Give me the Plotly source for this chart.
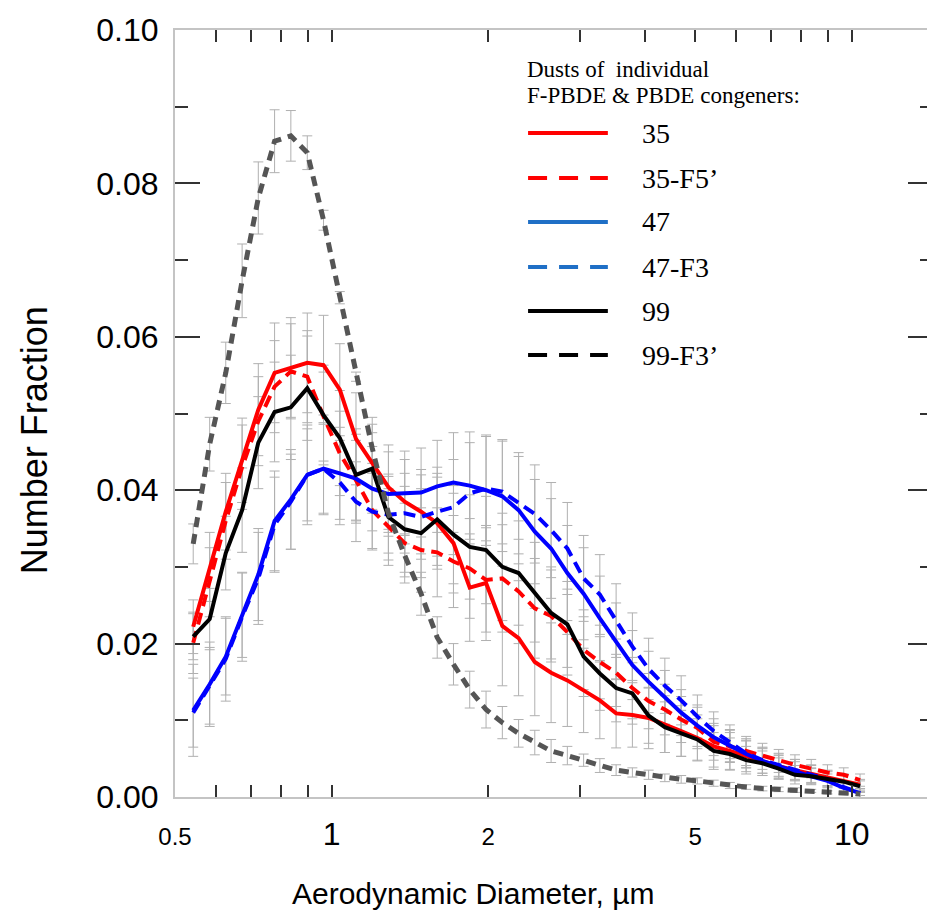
import plotly.graph_objects as go

# APS channel midpoints (aerodynamic diameter, um)
diameter = [0.542, 0.583, 0.626, 0.673, 0.723, 0.777, 0.835, 0.898, 0.965, 1.037,
            1.114, 1.197, 1.286, 1.382, 1.486, 1.596, 1.715, 1.843, 1.981, 2.129,
            2.288, 2.458, 2.642, 2.839, 3.051, 3.278, 3.523, 3.786, 4.068, 4.371,
            4.698, 5.048, 5.425, 5.829, 6.264, 6.732, 7.234, 7.774, 8.354, 8.977,
            9.647, 10.37]

frac_35 = [0.0222, 0.0300, 0.0372, 0.0439, 0.0505, 0.0553, 0.0560, 0.0566, 0.0563, 0.0531,
           0.0467, 0.0435, 0.0404, 0.0385, 0.0372, 0.0357, 0.0331, 0.0273, 0.0279, 0.0223,
           0.0207, 0.0176, 0.0162, 0.0152, 0.0139, 0.0126, 0.0109, 0.0107, 0.0103, 0.0095,
           0.0086, 0.0077, 0.0066, 0.0060, 0.0053, 0.0046, 0.0040, 0.0035, 0.0030, 0.0025,
           0.0021, 0.0016]
err_35 = [0.0035, 0.0045, 0.0050, 0.0055, 0.0060, 0.0065, 0.0065, 0.0065, 0.0065, 0.0060,
          0.0060, 0.0060, 0.0055, 0.0055, 0.0055, 0.0060, 0.0065, 0.0070, 0.0075, 0.0078,
          0.0075, 0.0070, 0.0065, 0.0060, 0.0055, 0.0050, 0.0045, 0.0042, 0.0040, 0.0037,
          0.0033, 0.0030, 0.0027, 0.0024, 0.0020, 0.0018, 0.0016, 0.0014, 0.0012, 0.0010,
          0.0009, 0.0007]

frac_35f = [0.0201, 0.0280, 0.0360, 0.0430, 0.0490, 0.0535, 0.0555, 0.0548, 0.0496, 0.0448,
            0.0413, 0.0374, 0.0352, 0.0331, 0.0322, 0.0319, 0.0307, 0.0298, 0.0283, 0.0285,
            0.0268, 0.0246, 0.0236, 0.0215, 0.0192, 0.0176, 0.0162, 0.0142, 0.0125, 0.0114,
            0.0101, 0.0090, 0.0072, 0.0066, 0.0060, 0.0053, 0.0047, 0.0042, 0.0037, 0.0032,
            0.0029, 0.0022]
err_35f = [0.0040, 0.0045, 0.0050, 0.0055, 0.0058, 0.0060, 0.0062, 0.0060, 0.0058, 0.0055,
           0.0052, 0.0050, 0.0050, 0.0052, 0.0055, 0.0058, 0.0060, 0.0065, 0.0068, 0.0070,
           0.0068, 0.0065, 0.0060, 0.0056, 0.0052, 0.0048, 0.0044, 0.0040, 0.0036, 0.0033,
           0.0030, 0.0027, 0.0024, 0.0021, 0.0019, 0.0017, 0.0015, 0.0013, 0.0012, 0.0010,
           0.0009, 0.0008]

frac_47 = [0.0113, 0.0147, 0.0183, 0.0237, 0.0290, 0.0360, 0.0388, 0.0420, 0.0428, 0.0422,
           0.0415, 0.0402, 0.0395, 0.0396, 0.0397, 0.0405, 0.0410, 0.0406, 0.0400, 0.0392,
           0.0374, 0.0346, 0.0324, 0.0292, 0.0265, 0.0233, 0.0203, 0.0172, 0.0150, 0.0130,
           0.0110, 0.0093, 0.0078, 0.0067, 0.0056, 0.0047, 0.0040, 0.0034, 0.0027, 0.0021,
           0.0012, 0.0005]
err_47 = [0.0060, 0.0055, 0.0050, 0.0055, 0.0060, 0.0065, 0.0065, 0.0065, 0.0060, 0.0060,
          0.0058, 0.0055, 0.0055, 0.0055, 0.0058, 0.0060, 0.0065, 0.0070, 0.0072, 0.0072,
          0.0070, 0.0068, 0.0065, 0.0062, 0.0060, 0.0055, 0.0050, 0.0045, 0.0040, 0.0035,
          0.0030, 0.0027, 0.0024, 0.0021, 0.0018, 0.0016, 0.0014, 0.0012, 0.0010, 0.0009,
          0.0008, 0.0006]

frac_47f = [0.0110, 0.0145, 0.0180, 0.0235, 0.0285, 0.0355, 0.0385, 0.0420, 0.0428, 0.0410,
            0.0385, 0.0372, 0.0368, 0.0370, 0.0365, 0.0372, 0.0378, 0.0396, 0.0402, 0.0398,
            0.0383, 0.0369, 0.0348, 0.0324, 0.0285, 0.0264, 0.0230, 0.0196, 0.0167, 0.0145,
            0.0126, 0.0105, 0.0086, 0.0072, 0.0057, 0.0048, 0.0042, 0.0036, 0.0030, 0.0023,
            0.0013, 0.0005]
err_47f = [0.0045, 0.0050, 0.0055, 0.0058, 0.0060, 0.0062, 0.0062, 0.0060, 0.0058, 0.0055,
           0.0052, 0.0050, 0.0050, 0.0052, 0.0055, 0.0058, 0.0062, 0.0066, 0.0068, 0.0068,
           0.0066, 0.0064, 0.0062, 0.0060, 0.0056, 0.0052, 0.0048, 0.0044, 0.0040, 0.0036,
           0.0032, 0.0028, 0.0025, 0.0022, 0.0019, 0.0017, 0.0015, 0.0013, 0.0011, 0.0010,
           0.0008, 0.0006]

frac_99 = [0.0209, 0.0232, 0.0318, 0.0374, 0.0462, 0.0502, 0.0508, 0.0533, 0.0498, 0.0468,
           0.0420, 0.0428, 0.0365, 0.0349, 0.0344, 0.0362, 0.0342, 0.0326, 0.0322, 0.0300,
           0.0292, 0.0267, 0.0240, 0.0225, 0.0183, 0.0161, 0.0142, 0.0135, 0.0106, 0.0091,
           0.0083, 0.0075, 0.0060, 0.0056, 0.0048, 0.0044, 0.0037, 0.0029, 0.0027, 0.0024,
           0.0020, 0.0014]
err_99 = [0.0030, 0.0040, 0.0048, 0.0055, 0.0060, 0.0065, 0.0068, 0.0068, 0.0065, 0.0062,
          0.0060, 0.0058, 0.0056, 0.0056, 0.0058, 0.0060, 0.0064, 0.0068, 0.0070, 0.0070,
          0.0068, 0.0065, 0.0060, 0.0056, 0.0052, 0.0048, 0.0044, 0.0040, 0.0036, 0.0033,
          0.0030, 0.0027, 0.0024, 0.0021, 0.0018, 0.0016, 0.0014, 0.0012, 0.0011, 0.0010,
          0.0009, 0.0007]

frac_99f = [0.0330, 0.0460, 0.0553, 0.0673, 0.0781, 0.0855, 0.0862, 0.0840, 0.0752, 0.0651,
            0.0548, 0.0455, 0.0370, 0.0315, 0.0265, 0.0208, 0.0173, 0.0140, 0.0114, 0.0097,
            0.0083, 0.0071, 0.0060, 0.0054, 0.0048, 0.0041, 0.0035, 0.0032, 0.0029, 0.0025,
            0.0023, 0.0021, 0.0018, 0.0015, 0.0013, 0.0011, 0.0010, 0.0009, 0.0008, 0.0006,
            0.0005, 0.0004]
err_99f = [0.0026, 0.0035, 0.0040, 0.0048, 0.0047, 0.0041, 0.0033, 0.0022, 0.0013, 0.0008,
           0.0006, 0.0020, 0.0025, 0.0028, 0.0028, 0.0027, 0.0027, 0.0024, 0.0024, 0.0021,
           0.0018, 0.0016, 0.0015, 0.0012, 0.0008, 0.0009, 0.0007, 0.0006, 0.0006, 0.0005,
           0.0005, 0.0004, 0.0004, 0.0004, 0.0003, 0.0003, 0.0003, 0.0003, 0.0002, 0.0002,
           0.0002, 0.0002]

legend_title = ["Dusts of  individual", "F-PBDE & PBDE congeners:"]
legend_labels = ["35", "35-F5\u2019", "47", "47-F3", "99", "99-F3\u2019"]

x_tickvals = [0.5, 1, 2, 5, 10]
x_ticktext = ["0.5", "1", "2", "5", "10"]
x_minor_vals = [0.6, 0.7, 0.8, 0.9, 3, 4, 6, 7, 8, 9]
y_tickvals = [0.0, 0.02, 0.04, 0.06, 0.08, 0.10]

series = [
    (frac_35, err_35, "#ff0000", "solid", 4),
    (frac_35f, err_35f, "#ff0000", "12px,7px", 4),
    (frac_47, err_47, "#0000ff", "solid", 4),
    (frac_47f, err_47f, "#0000ff", "12px,7px", 4),
    (frac_99, err_99, "#000000", "solid", 4),
    (frac_99f, err_99f, "#555555", "10px,7px", 5),
]
legend_colors = ["#ff0000", "#ff0000", "#1f6fc6", "#1f6fc6", "#000000", "#000000"]
legend_dashes = ["solid", "19px,12px", "solid", "19px,12px", "solid", "19px,12px"]

# page body has an 8px margin, so the figure is shrunk by that much
OFF = 8
W, H = 935 - OFF, 921 - OFF
L, T, R, B = 175 - OFF, 30 - OFF, 0, 124
pw, ph = W - L - R, H - T - B


def px2paper(x, y):
    # window pixel -> paper coords of the plot area
    return (x - OFF - L) / pw, (H - B - (y - OFF)) / ph


fig = go.Figure()

# error bars behind the curves
for y, err, color, dash, width in series:
    fig.add_trace(go.Scatter(
        x=diameter, y=y, mode='markers',
        marker=dict(size=1, color='rgba(0,0,0,0)'),
        error_y=dict(type='data', array=err, color='#b0b0b0', thickness=1, width=5),
        showlegend=False, hoverinfo='skip'))

for y, err, color, dash, width in series:
    fig.add_trace(go.Scatter(
        x=diameter, y=y, mode='lines',
        line=dict(color=color, dash=dash, width=width),
        showlegend=False))

serif = 'Liberation Serif, Times New Roman'
sans = 'Liberation Sans, Arial'

# hand-made legend (long line samples like the original)
shapes = []
annotations = []
row_y = [133, 178, 222, 267, 311, 355]
for i, label in enumerate(legend_labels):
    x0, yy = px2paper(529, row_y[i])
    x1, _ = px2paper(609, row_y[i])
    shapes.append(dict(type='line', xref='paper', yref='paper', x0=x0, x1=x1, y0=yy, y1=yy,
                       line=dict(color=legend_colors[i], width=4, dash=legend_dashes[i])))
    tx, _ = px2paper(641, row_y[i])
    annotations.append(dict(xref='paper', yref='paper', x=tx, y=yy, text=label,
                            showarrow=False, xanchor='left', yanchor='middle',
                            font=dict(family=serif, size=28, color='black')))
for line, yline in zip(legend_title, [70, 96]):
    tx, ty = px2paper(526, yline)
    annotations.append(dict(xref='paper', yref='paper', x=tx, y=ty, text=line,
                            showarrow=False, xanchor='left', yanchor='middle',
                            font=dict(family=serif, size=23, color='black')))

# axis titles
ax, ay = px2paper(474, 893)
annotations.append(dict(xref='paper', yref='paper', x=ax, y=ay, text="Aerodynamic Diameter, \u00b5m",
                        showarrow=False, xanchor='center', yanchor='middle',
                        font=dict(family=sans, size=30, color='black')))
ax, ay = px2paper(34, 440)
annotations.append(dict(xref='paper', yref='paper', x=ax, y=ay, text="Number Fraction",
                        showarrow=False, xanchor='center', yanchor='middle', textangle=-90,
                        font=dict(family=sans, size=36, color='black')))

small = '<span style="font-size:24px">{}</span>'
ticktext = [small.format(t) if t in ("0.5", "2", "5") else t for t in x_ticktext]

xrange_log = [-0.301, 1.156]
fig.update_layout(
    width=W, height=H,
    margin=dict(l=L, r=R, t=T, b=B),
    paper_bgcolor='white', plot_bgcolor='white',
    font=dict(family=sans, color='black'),
    showlegend=False,
    shapes=shapes,
    annotations=annotations,
    xaxis=dict(type='log', range=xrange_log,
               tickmode='array', tickvals=x_tickvals, ticktext=ticktext,
               ticks='inside', ticklen=12, tickwidth=2, tickcolor='#333333',
               tickfont=dict(size=32, color='black'), ticklabelstandoff=8,
               minor=dict(tickmode='array', tickvals=x_minor_vals, ticks='inside',
                          ticklen=12, tickwidth=2, tickcolor='#333333', showgrid=False),
               showline=True, linecolor='#c4c4c4', linewidth=2, mirror='allticks',
               showgrid=False, zeroline=False),
    xaxis2=dict(type='log', range=xrange_log, overlaying='x', anchor='y', side='bottom',
                tickmode='array', tickvals=[1, 10], showticklabels=False,
                ticks='inside', ticklen=25, tickwidth=2, tickcolor='#333333',
                mirror='ticks', showline=False, showgrid=False, zeroline=False),
    yaxis=dict(range=[0, 0.1], tickmode='array', tickvals=y_tickvals, tickformat='.2f',
               ticks='inside', ticklen=25, tickwidth=2, tickcolor='#333333',
               tickfont=dict(size=32, color='black'), ticklabelstandoff=8,
               minor=dict(dtick=0.01, ticks='inside', ticklen=13, tickwidth=2,
                          tickcolor='#333333', showgrid=False),
               showline=True, linecolor='#c4c4c4', linewidth=2, mirror='ticks',
               showgrid=False, zeroline=False),
)

fig.write_html("out.html")
